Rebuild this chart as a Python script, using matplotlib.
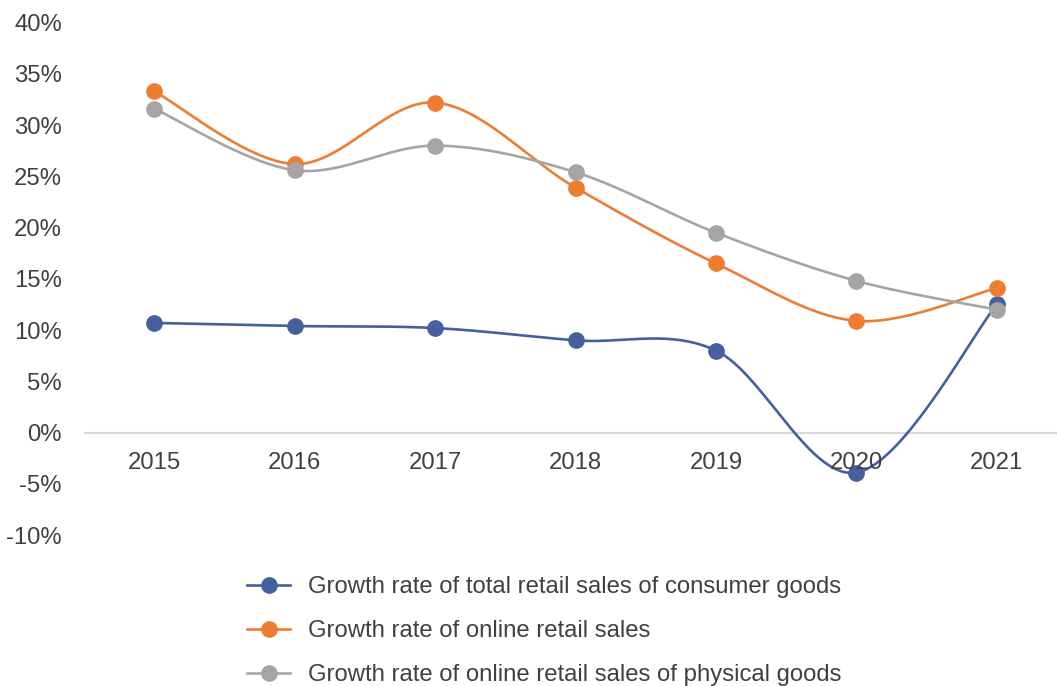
import numpy as np
import matplotlib.pyplot as plt

plt.rcParams['font.family'] = ['Liberation Sans', 'DejaVu Sans']

years = ['2015', '2016', '2017', '2018', '2019', '2020', '2021']
total_retail = [10.7, 10.4, 10.2, 9.0, 8.0, -3.9, 12.5]
online_retail = [33.3, 26.2, 32.2, 23.9, 16.5, 10.9, 14.1]
online_physical = [31.6, 25.6, 28.0, 25.4, 19.5, 14.8, 12.0]

series = [
    ('Growth rate of total retail sales of consumer goods', total_retail, '#45609F'),
    ('Growth rate of online retail sales', online_retail, '#ED7D31'),
    ('Growth rate of online retail sales of physical goods', online_physical, '#A5A5A5'),
]


def smooth(xs, ys, n=40):
    # cubic bezier through points with catmull-rom style control points
    xs = np.asarray(xs, float)
    ys = np.asarray(ys, float)
    px = np.concatenate([[xs[0]], xs, [xs[-1]]])
    py = np.concatenate([[ys[0]], ys, [ys[-1]]])
    out_x, out_y = [], []
    t = np.linspace(0, 1, n)
    for i in range(1, len(px) - 2):
        p0 = np.array([px[i], py[i]])
        p3 = np.array([px[i + 1], py[i + 1]])
        c1 = p0 + (np.array([px[i + 1], py[i + 1]]) - np.array([px[i - 1], py[i - 1]])) / 6
        c2 = p3 - (np.array([px[i + 2], py[i + 2]]) - np.array([px[i], py[i]])) / 6
        b = ((1 - t) ** 3)[:, None] * p0 + (3 * (1 - t) ** 2 * t)[:, None] * c1 \
            + (3 * (1 - t) * t ** 2)[:, None] * c2 + (t ** 3)[:, None] * p3
        out_x.extend(b[:, 0])
        out_y.extend(b[:, 1])
    return out_x, out_y


fig = plt.figure(figsize=(10.57, 6.86), dpi=100)
ax = fig.add_axes([0.0795, 0.220, 0.93, 0.747])

x = np.arange(len(years))
for label, vals, color in series:
    sx, sy = smooth(x, vals)
    ax.plot(sx, sy, color=color, lw=1.9, zorder=2)
    ax.plot(x, vals, 'o', color=color, ms=11, zorder=3)
    ax.plot([], [], '-o', color=color, lw=1.9, ms=11, label=label)

ax.axhline(0, color='#D9D9D9', lw=1.5, zorder=1)
ax.set_xlim(-0.5, 6.5)
ax.set_ylim(-10, 40)
ax.set_yticks(np.arange(-10, 41, 5))
ax.set_yticklabels([f'{v}%' for v in range(-10, 41, 5)])
ax.set_xticks([])
for i, yr in enumerate(years):
    ax.text(i, -3.0, yr, ha='center', va='center', fontsize=17.2, color='#404040')
ax.tick_params(axis='y', length=0, pad=16, labelsize=17.2, labelcolor='#404040')
for s in ax.spines.values():
    s.set_visible(False)

fig.legend(loc='upper left', bbox_to_anchor=(0.2337, 0.160), frameon=False,
           fontsize=17.2, labelcolor='#404040', handlelength=1.8,
           handletextpad=0.75, labelspacing=0.92, borderaxespad=0, borderpad=0)

fig.savefig('out.png', dpi=100)
